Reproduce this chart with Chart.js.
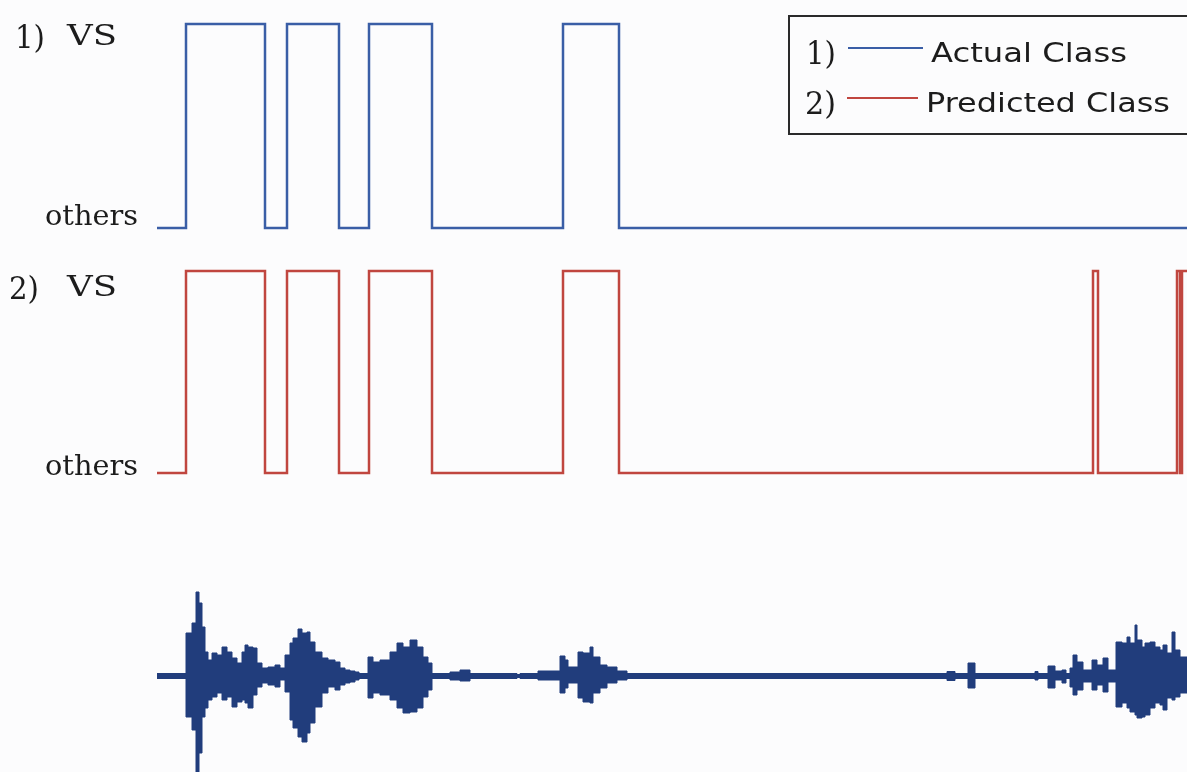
<!DOCTYPE html>
<html>
<head>
<meta charset="utf-8">
<script src="https://cdn.jsdelivr.net/npm/chart.js@4/dist/chart.umd.min.js"></script>
<style>
  html, body { margin: 0; padding: 0; background: #fcfcfd; overflow: hidden; }
  body { width: 1187px; height: 772px; position: relative; }
  canvas { position: absolute; left: 0; }
</style>
</head>
<body>
<canvas id="actual" width="1187" height="250" style="top:0"></canvas>
<canvas id="predicted" width="1187" height="240" style="top:250px"></canvas>
<canvas id="wave" width="1187" height="196" style="top:576px"></canvas>
<script>
// Time axis in analysis frames
const frameMax = 1030;

// Class states: 0 = others, 1 = VS; each state starts at the matching time
const classLabels = ['others', 'VS'];
const actualTimes    = [0, 29, 108, 130, 182, 212, 275, 406, 462, 1030];
const actualClass    = [0, 1,  0,   1,   0,   1,   0,   1,   0,   0];
const predictedTimes = [0, 29, 108, 130, 182, 212, 275, 406, 462, 936, 941, 1020, 1023, 1025, 1030];
const predictedClass = [0, 1,  0,   1,   0,   1,   0,   1,   0,   1,   0,   1,    0,    1,    1];

// Speech waveform envelope (normalised amplitude), each value holds from its frame to the next
const waveTimes = [0, 29, 35, 39, 42, 45, 48, 51, 55, 60, 65, 70, 75, 80, 85, 88, 91, 96, 100, 105,
  111, 118, 123, 128, 133, 136, 141, 145, 150, 153, 158, 165, 171, 178, 183, 188, 193, 198, 202, 211,
  216, 223, 233, 240, 246, 253, 260, 266, 271, 275, 293, 303, 313, 360, 363, 381, 403, 408, 411, 421,
  426, 433, 436, 443, 450, 460, 470, 790, 798, 811, 818, 878, 881, 891, 898, 905, 909, 913, 916, 920,
  926, 935, 940, 946, 951, 959, 965, 970, 973, 978, 980, 985, 988, 993, 998, 1003, 1006, 1010, 1015, 1018,
  1023, 1030];
const waveUpper = [0.025, 0.43, 0.53, 0.84, 0.73, 0.49, 0.24, 0.16, 0.23, 0.21, 0.29, 0.24, 0.18, 0.13, 0.24, 0.31, 0.29, 0.28, 0.13, 0.08,
  0.09, 0.11, 0.08, 0.21, 0.33, 0.38, 0.47, 0.43, 0.44, 0.34, 0.24, 0.18, 0.16, 0.14, 0.08, 0.06, 0.05, 0.04, 0.025, 0.19,
  0.14, 0.16, 0.24, 0.33, 0.29, 0.36, 0.29, 0.19, 0.13, 0.025, 0.04, 0.06, 0.025, 0.015, 0.025, 0.05, 0.20, 0.16, 0.09, 0.24,
  0.23, 0.29, 0.19, 0.11, 0.09, 0.05, 0.025, 0.045, 0.025, 0.13, 0.025, 0.045, 0.025, 0.10, 0.05, 0.06, 0.025, 0.08, 0.21, 0.14,
  0.06, 0.16, 0.11, 0.18, 0.06, 0.34, 0.33, 0.39, 0.33, 0.51, 0.36, 0.29, 0.33, 0.34, 0.29, 0.26, 0.31, 0.23, 0.44, 0.26,
  0.19, 0.19];
const waveLower = [-0.025, -0.41, -0.54, -0.96, -0.77, -0.41, -0.32, -0.24, -0.21, -0.17, -0.24, -0.21, -0.31, -0.26, -0.24, -0.27, -0.32, -0.19, -0.11, -0.07,
  -0.09, -0.11, -0.04, -0.16, -0.44, -0.52, -0.61, -0.66, -0.57, -0.47, -0.31, -0.17, -0.11, -0.14, -0.09, -0.07, -0.06, -0.04, -0.025, -0.22,
  -0.17, -0.19, -0.24, -0.32, -0.37, -0.36, -0.32, -0.21, -0.14, -0.025, -0.04, -0.05, -0.025, -0.015, -0.025, -0.04, -0.17, -0.12, -0.07, -0.22,
  -0.26, -0.27, -0.17, -0.12, -0.07, -0.04, -0.025, -0.045, -0.025, -0.12, -0.025, -0.04, -0.025, -0.12, -0.04, -0.07, -0.025, -0.11, -0.19, -0.14,
  -0.06, -0.14, -0.09, -0.16, -0.06, -0.31, -0.27, -0.32, -0.36, -0.39, -0.42, -0.41, -0.39, -0.32, -0.27, -0.29, -0.34, -0.22, -0.24, -0.21,
  -0.17, -0.17];

const seriesNames = ['Actual Class', 'Predicted Class'];
const actualColor = '#3a5ea6';
const predictedColor = '#c0463f';
const waveColor = '#213d7c';
const textColor = '#1c1c1c';

const toPoints = (xs, ys) => xs.map((x, i) => ({ x, y: ys[i] }));

// Draw a string stretched to a given width
function fitText(ctx, text, x, y, width, font) {
  ctx.save();
  ctx.font = font;
  const w = ctx.measureText(text).width;
  ctx.translate(x, y);
  ctx.scale(width / w, 1);
  ctx.fillText(text, 0, 0);
  ctx.restore();
}

const serif = '28px "DejaVu Serif"';
const serifBig = '32px "DejaVu Serif"';
const sans = '26px "DejaVu Sans"';

// Class names beside each step trace
function classLabelPlugin(num, vsOffset, othersOffset) {
  return {
    id: 'classLabels' + num,
    afterDraw(chart) {
      const { ctx } = chart;
      const y = chart.scales.y;
      const vsY = y.getPixelForValue(1) + vsOffset;
      const otY = y.getPixelForValue(0) + othersOffset;
      ctx.save();
      ctx.fillStyle = textColor;
      ctx.textBaseline = 'alphabetic';
      fitText(ctx, num + ')', num === 1 ? 15 : 9, vsY + 3, 30, serifBig);
      fitText(ctx, classLabels[1], 67, vsY, 50, serif);
      fitText(ctx, classLabels[0], 45, otY, 93, serif);
      ctx.restore();
    }
  };
}

// Boxed key in the upper right corner
const keyPlugin = {
  id: 'key',
  afterDraw(chart) {
    const { ctx } = chart;
    ctx.save();
    ctx.strokeStyle = '#2a2a2a';
    ctx.lineWidth = 2;
    ctx.strokeRect(789, 16, 420, 118);
    const rows = [
      { n: '1)', nx: 806, nw: 30, color: actualColor, lx0: 848, lx1: 923, ly: 48, tx: 931, tw: 196, ty: 62 },
      { n: '2)', nx: 805, nw: 31, color: predictedColor, lx0: 847, lx1: 918, ly: 98, tx: 926, tw: 244, ty: 112 }
    ];
    rows.forEach((r, i) => {
      ctx.fillStyle = textColor;
      fitText(ctx, r.n, r.nx, r.ty + 2, r.nw, serifBig);
      ctx.strokeStyle = r.color;
      ctx.lineWidth = 2;
      ctx.beginPath();
      ctx.moveTo(r.lx0, r.ly);
      ctx.lineTo(r.lx1, r.ly);
      ctx.stroke();
      ctx.fillStyle = textColor;
      fitText(ctx, seriesNames[i], r.tx, r.ty, r.tw, sans);
    });
    ctx.restore();
  }
};

const baseOptions = (padding, ymin, ymax) => ({
  responsive: false,
  animation: false,
  devicePixelRatio: 1,
  layout: { padding },
  plugins: { legend: { display: false }, tooltip: { enabled: false } },
  scales: {
    x: { type: 'linear', min: 0, max: frameMax, display: false },
    y: { type: 'linear', min: ymin, max: ymax, display: false }
  }
});

function stepDataset(label, xs, ys, color) {
  return {
    label,
    data: toPoints(xs, ys),
    borderColor: color,
    borderWidth: 2.5,
    stepped: 'before',
    pointRadius: 0,
    fill: false,
    clip: false
  };
}

// Envelope half, stepped and filled towards the zero line
function envelopeDataset(label, ys) {
  return {
    label,
    data: toPoints(waveTimes, ys),
    borderColor: waveColor,
    backgroundColor: waveColor,
    borderWidth: 1,
    stepped: 'before',
    pointRadius: 0,
    fill: 'origin'
  };
}

new Chart(document.getElementById('actual'), {
  type: 'line',
  data: { datasets: [stepDataset(seriesNames[0], actualTimes, actualClass, actualColor)] },
  options: baseOptions({ left: 157, right: 0, top: 24, bottom: 22 }, 0, 1),
  plugins: [classLabelPlugin(1, 21, -3), keyPlugin]
});

new Chart(document.getElementById('predicted'), {
  type: 'line',
  data: { datasets: [stepDataset(seriesNames[1], predictedTimes, predictedClass, predictedColor)] },
  options: baseOptions({ left: 157, right: 0, top: 21, bottom: 17 }, 0, 1),
  plugins: [classLabelPlugin(2, 25, 2)]
});

new Chart(document.getElementById('wave'), {
  type: 'line',
  data: {
    datasets: [
      envelopeDataset('upper', waveUpper),
      envelopeDataset('lower', waveLower)
    ]
  },
  options: baseOptions({ left: 157, right: 0, top: 0, bottom: 0 }, -0.96, 1.0)
});
</script>
</body>
</html>
